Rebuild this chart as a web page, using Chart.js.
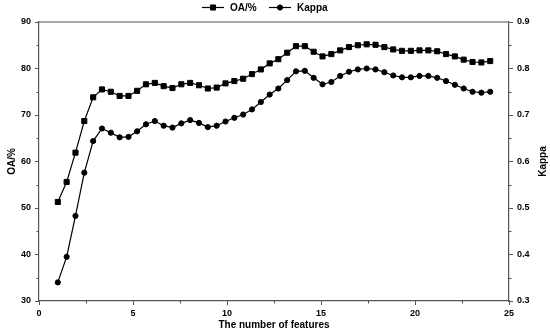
<!DOCTYPE html>
<html><head><meta charset="utf-8">
<script src="https://cdn.jsdelivr.net/npm/chart.js@4/dist/chart.umd.min.js"></script>
<style>html,body{margin:0;padding:0;background:#fff}#wrap{width:550px;height:334px}</style>
</head><body><div id="wrap"><canvas id="c" width="550" height="334"></canvas></div>
<script>
// ---- data ----
const featureCounts = [1.00,1.47,1.94,2.41,2.88,3.35,3.82,4.29,4.76,5.22,
  5.69,6.16,6.63,7.10,7.57,8.04,8.51,8.98,9.45,9.92,
  10.39,10.86,11.33,11.80,12.27,12.73,13.20,13.67,14.14,14.61,
  15.08,15.55,16.02,16.49,16.96,17.43,17.90,18.37,18.84,19.31,
  19.78,20.24,20.71,21.18,21.65,22.12,22.59,23.06,23.53,24.00];
const oaValues = [51.3,55.6,61.9,68.7,73.8,75.5,75.0,74.1,74.1,75.2,
  76.6,76.9,76.2,75.8,76.6,76.9,76.4,75.7,75.9,76.8,
  77.3,77.8,78.8,79.8,81.1,82.0,83.4,84.8,84.8,83.6,
  82.6,83.1,83.9,84.6,85.0,85.2,85.1,84.6,84.1,83.8,
  83.8,83.9,83.9,83.7,83.1,82.6,81.9,81.4,81.3,81.6];
const kappaValues = [0.340,0.395,0.483,0.576,0.644,0.671,0.662,0.652,0.653,0.665,
  0.680,0.687,0.677,0.673,0.682,0.689,0.683,0.674,0.677,0.686,
  0.694,0.701,0.712,0.728,0.744,0.757,0.775,0.794,0.795,0.780,
  0.766,0.771,0.784,0.793,0.798,0.800,0.798,0.792,0.785,0.781,
  0.781,0.784,0.784,0.780,0.773,0.765,0.757,0.750,0.748,0.750];
const xTicks = [0,5,10,15,20,25];
const oaTicks = [30,40,50,60,70,80,90];
const kappaTicks = [0.3,0.4,0.5,0.6,0.7,0.8,0.9];
const seriesNames = ['OA/%','Kappa'];
const xTitle = 'The number of features';
const yTitle = 'OA/%';
const y2Title = 'Kappa';

// ---- styling ----
const FONT = '"Liberation Sans", Arial, sans-serif';
const AXIS = '#555';
const INK = '#000';

const tickFont = {family: FONT, weight: 'bold', size: 9};
const titleFont = {family: FONT, weight: 'bold', size: 10};

function setTicks(arr){ return scale => { scale.ticks = arr.map(v => ({value: v})); }; }

const decor = {
  id: 'decor',
  afterDraw(chart){
    const {ctx, chartArea: a, scales} = chart;
    ctx.save();
    // top frame line
    ctx.strokeStyle = AXIS; ctx.lineWidth = 1.2;
    ctx.beginPath(); ctx.moveTo(a.left, a.top); ctx.lineTo(a.right, a.top); ctx.stroke();
    // minor ticks
    ctx.lineWidth = 1;
    ctx.beginPath();
    for (let i = 0; i < xTicks.length - 1; i++) {
      const px = Math.round(scales.x.getPixelForValue((xTicks[i] + xTicks[i+1]) / 2)) + 0.5;
      ctx.moveTo(px, a.bottom); ctx.lineTo(px, a.bottom + 2.5);
    }
    for (let i = 0; i < oaTicks.length - 1; i++) {
      const py = Math.round(scales.y.getPixelForValue((oaTicks[i] + oaTicks[i+1]) / 2)) + 0.5;
      ctx.moveTo(a.left - 2.5, py); ctx.lineTo(a.left, py);
    }
    for (let i = 0; i < kappaTicks.length - 1; i++) {
      const py = Math.round(scales.y2.getPixelForValue((kappaTicks[i] + kappaTicks[i+1]) / 2)) + 0.5;
      ctx.moveTo(a.right, py); ctx.lineTo(a.right + 2.5, py);
    }
    ctx.stroke();
    // right axis title (reads bottom to top)
    ctx.fillStyle = INK;
    ctx.font = 'bold 10px ' + FONT;
    ctx.textAlign = 'center'; ctx.textBaseline = 'middle';
    ctx.translate(a.right + 34, (a.top + a.bottom) / 2);
    ctx.rotate(-Math.PI / 2);
    ctx.fillText(y2Title, 0, 0);
    ctx.restore();

    // legend
    ctx.save();
    const ly = 7.5;
    const items = [
      {name: seriesNames[0], x0: 202, style: 'rect', r: 3.6},
      {name: seriesNames[1], x0: 269, style: 'circle', r: 2.6}
    ];
    items.forEach(it => {
      ctx.strokeStyle = INK; ctx.lineWidth = 1.2;
      ctx.beginPath(); ctx.moveTo(it.x0, ly); ctx.lineTo(it.x0 + 22, ly); ctx.stroke();
      ctx.fillStyle = INK; ctx.strokeStyle = INK; ctx.lineWidth = 1;
      Chart.helpers.drawPoint(ctx, {pointStyle: it.style, rotation: 0, radius: it.r, borderWidth: 1}, it.x0 + 11, ly);
      ctx.font = 'bold 10px ' + FONT;
      ctx.textAlign = 'left'; ctx.textBaseline = 'middle';
      ctx.fillStyle = INK;
      ctx.fillText(it.name, it.x0 + 28, ly + 0.5);
    });
    ctx.restore();
  }
};

new Chart(document.getElementById('c'), {
  type: 'line',
  data: {
    datasets: [
      {
        label: seriesNames[0],
        data: featureCounts.map((x, i) => ({x: x, y: oaValues[i]})),
        yAxisID: 'y',
        borderColor: INK, backgroundColor: INK,
        borderWidth: 1.2,
        pointStyle: 'rect', pointRadius: 3.6, pointBorderWidth: 1,
        pointBackgroundColor: INK, pointBorderColor: INK,
        tension: 0, fill: false
      },
      {
        label: seriesNames[1],
        data: featureCounts.map((x, i) => ({x: x, y: kappaValues[i]})),
        yAxisID: 'y2',
        borderColor: INK, backgroundColor: INK,
        borderWidth: 1.2,
        pointStyle: 'circle', pointRadius: 2.6, pointBorderWidth: 1,
        pointBackgroundColor: INK, pointBorderColor: INK,
        tension: 0, fill: false
      }
    ]
  },
  options: {
    responsive: false,
    devicePixelRatio: 1,
    animation: false,
    events: [],
    layout: {padding: {top: 22, right: 0, bottom: 0, left: 0}},
    plugins: {legend: {display: false}, tooltip: {enabled: false}, title: {display: false}},
    scales: {
      x: {
        type: 'linear', position: 'bottom', min: 0, max: 25,
        afterBuildTicks: setTicks(xTicks),
        afterFit: s => { s.height = 33; },
        grid: {drawOnChartArea: false, drawTicks: true, tickLength: 4, color: AXIS, tickColor: AXIS, tickWidth: 1},
        border: {display: true, color: AXIS, width: 1.2},
        ticks: {color: INK, font: tickFont, padding: 3, maxRotation: 0, autoSkip: false},
        title: {display: true, text: xTitle, color: INK, font: titleFont, padding: {top: 0, bottom: 2.3}}
      },
      y: {
        type: 'linear', position: 'left', min: 30, max: 90,
        afterBuildTicks: setTicks(oaTicks),
        afterFit: s => { s.width = 39; },
        grid: {drawOnChartArea: false, drawTicks: true, tickLength: 4, color: AXIS, tickColor: AXIS, tickWidth: 1},
        border: {display: true, color: AXIS, width: 1.2},
        ticks: {color: INK, font: tickFont, padding: 4},
        title: {display: true, text: yTitle, color: INK, font: titleFont, padding: {top: 6, bottom: 0}}
      },
      y2: {
        type: 'linear', position: 'right', min: 0.3, max: 0.9,
        afterBuildTicks: setTicks(kappaTicks),
        afterFit: s => { s.width = 41; },
        grid: {drawOnChartArea: false, drawTicks: true, tickLength: 4, color: AXIS, tickColor: AXIS, tickWidth: 1},
        border: {display: true, color: AXIS, width: 1.2},
        ticks: {color: INK, font: tickFont, padding: 4, callback: v => v.toFixed(1)},
        title: {display: false}
      }
    }
  },
  plugins: [decor]
});
</script>
</body></html>
